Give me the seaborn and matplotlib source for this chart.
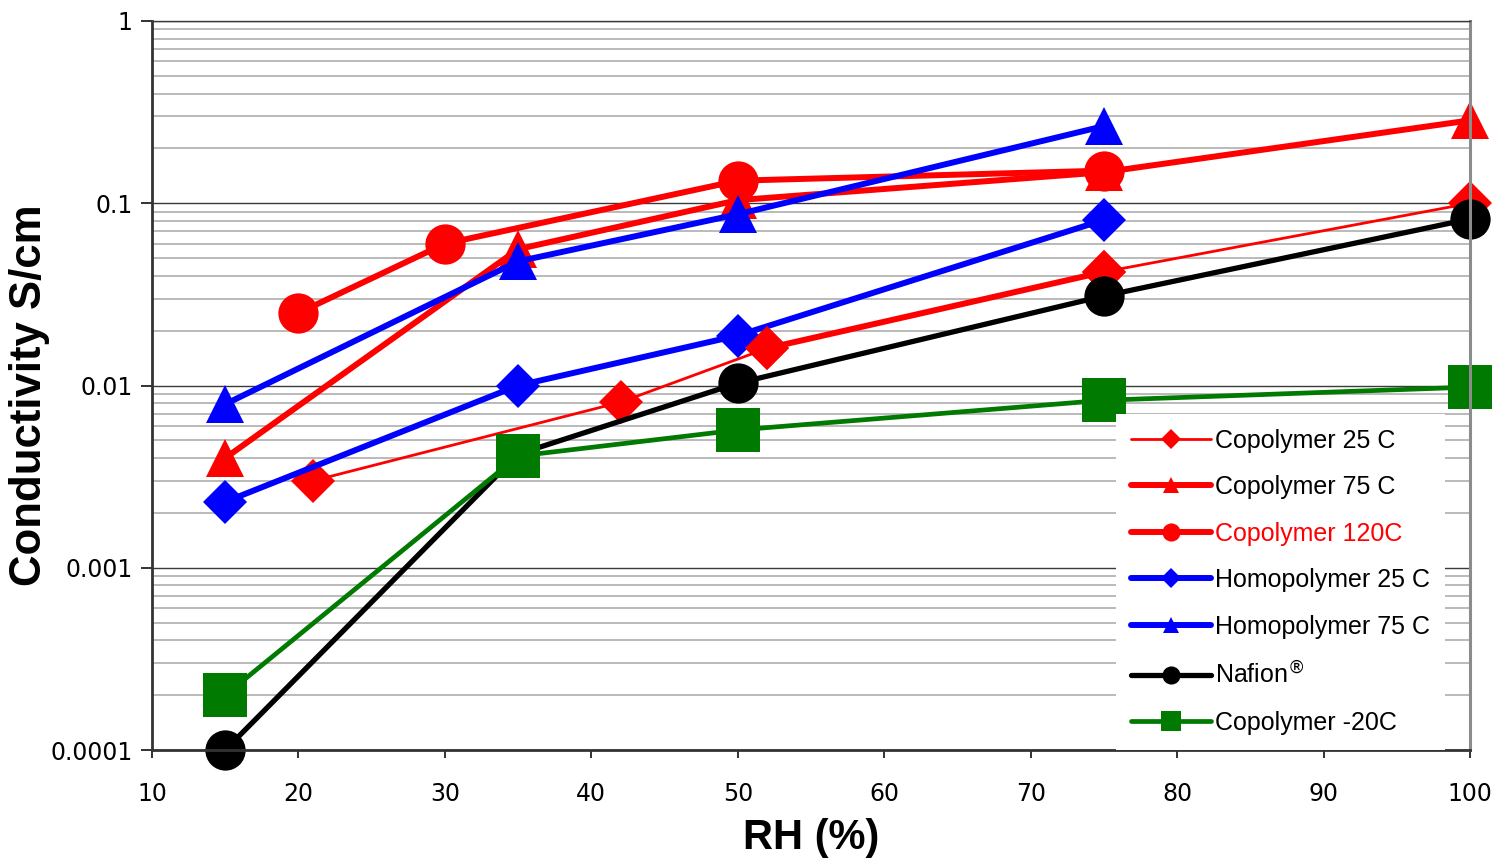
import numpy as np
import pandas as pd
import matplotlib
matplotlib.use("Agg")
import matplotlib.pyplot as plt
import seaborn as sns
from matplotlib.ticker import FixedLocator, LogLocator, NullFormatter

# data
rh_co25 = [21, 42, 52, 75, 100]
cond_co25 = [0.003, 0.0081, 0.016, 0.042, 0.1]
# thick red segment drawn over part of the 25 C curve (no legend entry)
rh_co25_thick = [52, 75]
cond_co25_thick = [0.016, 0.042]

rh_co75 = [15, 35, 50, 75, 100]
cond_co75 = [0.004, 0.056, 0.104, 0.148, 0.285]

rh_co120 = [20, 30, 50, 75]
cond_co120 = [0.025, 0.06, 0.133, 0.151]

rh_homo25 = [15, 35, 50, 75]
cond_homo25 = [0.0023, 0.01, 0.0188, 0.081]

rh_homo75 = [15, 35, 50, 75]
cond_homo75 = [0.0079, 0.048, 0.087, 0.265]

rh_nafion = [15, 35, 50, 75, 100]
cond_nafion = [0.0001, 0.0042, 0.0103, 0.031, 0.082]

rh_cominus20 = [15, 35, 50, 75, 100]
cond_cominus20 = [0.0002, 0.0041, 0.0057, 0.0083, 0.0098]

x_ticks = [10, 20, 30, 40, 50, 60, 70, 80, 90, 100]
y_ticks = [0.0001, 0.001, 0.01, 0.1, 1]
y_tick_labels = ["0.0001", "0.001", "0.01", "0.1", "1"]

sns.set_style("white")
plt.rcParams['font.family'] = ['Liberation Sans', 'DejaVu Sans']
plt.rcParams['text.color'] = 'black'
plt.rcParams['axes.labelcolor'] = 'black'
plt.rcParams['xtick.color'] = 'black'
plt.rcParams['ytick.color'] = 'black'

fig = plt.figure(figsize=(15.02, 8.59), dpi=100)
ax = fig.add_axes([152 / 1502, 1 - 750 / 859, (1470 - 152) / 1502, (750 - 21) / 859])

RED = "#ff0000"
BLUE = "#0000ff"
GREEN = "#007a00"

def draw(x, y, color, marker, ms, lw, label):
    df = pd.DataFrame({"rh": x, "cond": y})
    sns.lineplot(data=df, x="rh", y="cond", ax=ax, color=color, marker=marker,
                 markersize=ms, linewidth=lw, markeredgewidth=0, label=label,
                 legend=False, clip_on=False)

draw(rh_co25, cond_co25, RED, "D", 22, 2.0, "Copolymer 25 C")
draw(rh_co75, cond_co75, RED, "^", 27, 4.3, "Copolymer 75 C")
draw(rh_co120, cond_co120, RED, "o", 29, 4.3, "Copolymer 120C")
draw(rh_homo25, cond_homo25, BLUE, "D", 22, 4.3, "Homopolymer 25 C")
draw(rh_homo75, cond_homo75, BLUE, "^", 27, 4.3, "Homopolymer 75 C")
draw(rh_co25_thick, cond_co25_thick, RED, "D", 22, 4.3, None)
draw(rh_nafion, cond_nafion, "black", "o", 29, 3.8, "Nafion$^{\\circledR}$")
draw(rh_cominus20, cond_cominus20, GREEN, "s", 31, 3.4, "Copolymer -20C")

ax.set_yscale("log")
ax.set_xlim(10, 100)
ax.set_ylim(0.0001, 1)

ax.yaxis.set_major_locator(FixedLocator(y_ticks))
ax.set_yticklabels(y_tick_labels)
ax.yaxis.set_minor_locator(LogLocator(base=10, subs=np.arange(2, 10)))
ax.yaxis.set_minor_formatter(NullFormatter())
ax.set_xticks(x_ticks)
for lab in ax.get_xticklabels() + ax.get_yticklabels():
    lab.set_family(["DejaVu Sans"])

ax.grid(False)
ax.yaxis.grid(True, which="major", color="#3a3a3a", linewidth=1.0)
ax.yaxis.grid(True, which="minor", color="#b4b4b4", linewidth=1.3)
ax.set_axisbelow(True)

ax.tick_params(axis="y", which="major", direction="out", length=8, width=1.3,
               color="#222222", labelcolor="black", labelsize=17, pad=6, left=True)
ax.tick_params(axis="y", which="minor", left=False)
ax.tick_params(axis="x", which="major", direction="out", length=6, width=1.3,
               color="#222222", labelcolor="black", labelsize=17, pad=17, bottom=True)

for side in ["left", "bottom"]:
    ax.spines[side].set_color("#333333")
    ax.spines[side].set_linewidth(2.0)
ax.spines["right"].set_color("#8c8c8c")
ax.spines["right"].set_linewidth(2.2)
ax.spines["top"].set_color("#3a3a3a")
ax.spines["top"].set_linewidth(1.0)

ax.set_xlabel("RH (%)", fontsize=30, fontweight="bold", labelpad=9, color="black")
ax.set_ylabel("Conductivity S/cm", fontsize=31.5, fontweight="bold", color="black")
ax.yaxis.set_label_coords(-0.0774, 0.487)

handles, labels = ax.get_legend_handles_labels()
leg = ax.legend(handles, labels, loc="lower right", bbox_to_anchor=(0.981, 0.0),
                borderaxespad=0, frameon=True, fontsize=18, markerscale=0.45,
                handlelength=3.2, handletextpad=0.15, labelspacing=0.9,
                borderpad=0.6, fancybox=False)
leg.get_frame().set_facecolor("white")
leg.get_frame().set_edgecolor("none")
leg.get_frame().set_alpha(1)
for t in leg.get_texts():
    if t.get_text() == "Copolymer 120C":
        t.set_color(RED)
    else:
        t.set_color("black")

fig.savefig("out.png", dpi=100)
